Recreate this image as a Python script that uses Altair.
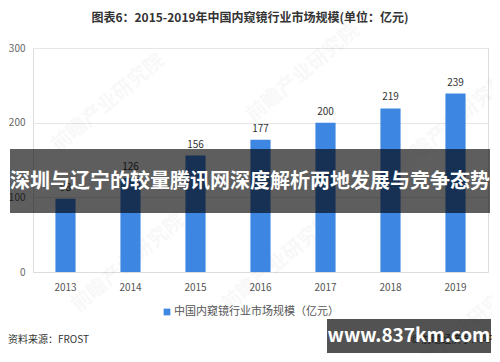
import altair as alt
import pandas as pd

years = ["2013", "2014", "2015", "2016", "2017", "2018", "2019"]
values = [98, 126, 156, 177, 200, 219, 239]
y_ticks = [0, 50, 100, 150, 200, 250, 300]

title_text = "图表6：2015-2019年中国内窥镜行业市场规模(单位：亿元)"
legend_text = "中国内窥镜行业市场规模（亿元）"
source_text = "资料来源：FROST"
credit_text = "© 前瞻经济学人APP"
banner_text = "深圳与辽宁的较量腾讯网深度解析两地发展与竞争态势"
site_text = "www.837km.com"
wm_text = "前瞻产业研究院"

W, H = 455, 224
FONT = "Noto Sans CJK SC"
BLUE = "#3d86e2"

df = pd.DataFrame({"year": years, "value": values})
one = pd.DataFrame({"a": [0]})

base = alt.Chart(df)

bars = base.mark_bar(color=BLUE).encode(
    x=alt.X("year:N", sort=years, title=None,
            scale=alt.Scale(paddingInner=0.69, paddingOuter=0.345),
            axis=alt.Axis(labelAngle=0, labelColor="#555", labelFontSize=10,
                          labelFont=FONT, ticks=False, domainColor="#dcdcdc",
                          labelPadding=10, grid=False)),
    y=alt.Y("value:Q", title=None,
            scale=alt.Scale(domain=[0, 300]),
            axis=alt.Axis(values=y_ticks, labelColor="#666", labelFontSize=10,
                          labelFont=FONT, ticks=False, domain=False,
                          gridColor="#e6e6e6", labelPadding=8)),
)

labels = base.mark_text(dy=-11, fontSize=10, color="#333", font=FONT).encode(
    x=alt.X("year:N", sort=years),
    y="value:Q",
    text="value:Q",
)

# faint watermarks
wm_x = [75, 270, 420, 95, 245, 430]
wm_y = [55, 25, 75, 215, 215, 282]
wm = pd.DataFrame({"x": wm_x, "y": wm_y, "t": [wm_text] * 6})
watermarks = alt.Chart(wm).mark_text(
    angle=320, fontSize=20, fontWeight="bold", color="#000", opacity=0.025, font=FONT
).encode(x=alt.X("x:Q", scale=None), y=alt.Y("y:Q", scale=None), text="t:N")

title = alt.Chart(one).mark_text(
    fontSize=12, fontWeight="bold", color="#333", font=FONT
).encode(x=alt.value(217), y=alt.value(-30), text=alt.value(title_text))

legend_sq = alt.Chart(one).mark_square(size=45, color=BLUE, opacity=1).encode(
    x=alt.value(134), y=alt.value(264))
legend_tx = alt.Chart(one).mark_text(
    align="left", fontSize=11, color="#555", font=FONT
).encode(x=alt.value(141), y=alt.value(264), text=alt.value(legend_text))

source = alt.Chart(one).mark_text(
    align="left", fontSize=10, color="#333", font=FONT
).encode(x=alt.value(-25), y=alt.value(292), text=alt.value(source_text))

credit = alt.Chart(one).mark_text(
    align="right", fontSize=10, color="#555", font=FONT
).encode(x=alt.value(467), y=alt.value(292), text=alt.value(credit_text))

banner = alt.Chart(one).mark_rect(color="#000", opacity=0.63).encode(
    x=alt.value(-23), x2=alt.value(457), y=alt.value(101), y2=alt.value(165))
banner_tx = alt.Chart(one).mark_text(
    fontSize=20, fontWeight="bold", color="white", font=FONT
).encode(x=alt.value(217), y=alt.value(134), text=alt.value(banner_text))

site_box = alt.Chart(one).mark_rect(color="#000", opacity=0.68).encode(
    x=alt.value(294), x2=alt.value(458), y=alt.value(271), y2=alt.value(305))
site_tx = alt.Chart(one).mark_text(
    fontSize=19, fontWeight="bold", color="white", font=FONT
).encode(x=alt.value(376), y=alt.value(288), text=alt.value(site_text))

chart = alt.layer(
    watermarks, bars, labels, title, legend_sq, legend_tx, source, credit,
    banner, banner_tx, site_box, site_tx
).properties(
    width=W, height=H,
    padding={"left": 25, "top": 40, "right": 4, "bottom": 82},
    autosize=alt.AutoSizeParams(type="none"),
).configure_view(stroke=None).configure(background="white")

chart.save("out.html", embed_options={"renderer": "svg", "actions": False})
